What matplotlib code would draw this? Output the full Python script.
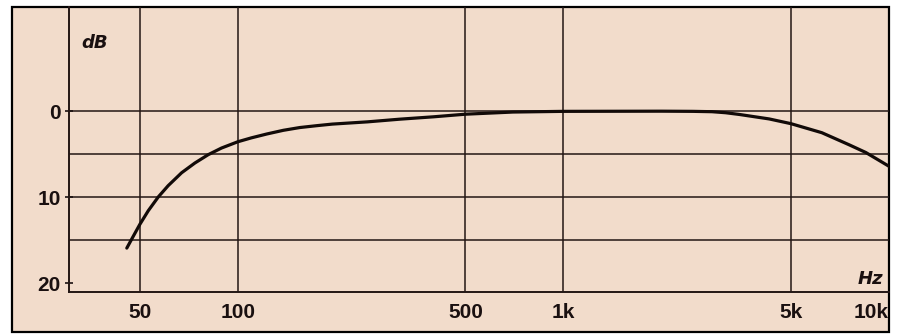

# Frequency response chart: attenuation in dB against frequency on a log axis.
# Values.

import numpy as np
import matplotlib as mpl
import matplotlib.pyplot as plt
from matplotlib.patches import Rectangle

# Curve points (frequency in Hz, attenuation in dB, 0 at the top)
freq = [45.6, 47.7, 50, 53.1, 57, 61.1, 67.2, 73.8, 81.1, 89.1, 100, 110,
	122.7, 138, 155, 175, 195, 250, 314, 400, 500, 700, 1000, 2000, 2500, 2860, 3150,
	3470, 4285, 5000, 6220, 7540, 8490, 10000]
db = [15.9, 14.55, 13.15, 11.55, 9.95, 8.65, 7.15, 6.02, 5.05, 4.28, 3.55, 3.1,
	2.65, 2.22, 1.9, 1.68, 1.5, 1.24, 0.93, 0.65, 0.35, 0.1, 0.02, 0.0, 0.02, 0.06, 0.18,
	0.38, 0.9, 1.45, 2.5, 3.9, 4.8, 6.4]

# Axis ticks and labels
x_ticks = [50, 100, 500, 1000, 5000, 10000]
x_labels = ["50", "100", "500", "1k", "5k", "10k"]
y_ticks = [0, 10, 20]
y_labels = ["0", "10", "20"]
y_grid = [0, 5, 10, 15]

def main():
	mpl.use("Agg")

	paper = "#f2dccb"
	ink = "#231614"

	fig = plt.figure(figsize=(8.99, 3.34), dpi=100)
	fig.patch.set_facecolor("white")

	# Outer frame of the printed chart, filled with the paper colour
	W, H = 899.0, 334.0
	frame = Rectangle((12 / W, 2 / H), (889 - 12) / W, (332 - 7) / H,
		transform=fig.transFigure, facecolor=paper, edgecolor="black",
		linewidth=1.6, zorder=-1)
	fig.patches.append(frame)

	ax = fig.add_axes([69 / W, 1 - 292 / H, (889 - 69) / W, (292 - 7) / H])
	ax.set_facecolor("none")

	ax.set_xscale("log")
	ax.set_xlim(30.3, 10000)
	ax.set_ylim(21, -12.1)

	# Grid lines
	for f in x_ticks[:-1]:
		ax.axvline(f, color=ink, linewidth=1.1, zorder=1)
	for v in y_grid:
		ax.axhline(v, color=ink, linewidth=1.1, zorder=1)

	# Response curve
	ax.plot(freq, db, color="#120a08", linewidth=2.3, solid_capstyle="round",
		solid_joinstyle="round", zorder=3)

	# Axes lines
	for s in ["top", "right"]:
		ax.spines[s].set_visible(False)
	for s in ["left", "bottom"]:
		ax.spines[s].set_color(ink)
		ax.spines[s].set_linewidth(1.4)

	font = dict(family=["Liberation Sans", "DejaVu Sans"], weight="bold", size=15)

	ax.set_xticks(x_ticks)
	ax.set_xticklabels(x_labels, **font)
	ax.xaxis.set_minor_locator(mpl.ticker.NullLocator())
	ax.tick_params(axis="x", length=0, pad=8, colors="#1a1010")
	ax.get_xticklabels()[-1].set_horizontalalignment("right")

	ax.set_yticks(y_ticks)
	ax.set_yticklabels(y_labels, **font)
	ax.tick_params(axis="y", direction="inout", length=6, width=1.2, pad=3,
		colors="#1a1010")

	# Unit labels
	ax.text(36.4, -7.9, "dB", fontsize=13, style="italic", weight="bold",
		family="DejaVu Sans", color="#1a1010", ha="center", va="center")
	ax.text(8800, 19.5, "Hz", fontsize=13, style="italic", weight="bold",
		family="DejaVu Sans", color="#1a1010", ha="center", va="center")

	fig.savefig("out.png", dpi=100, facecolor="white")

if __name__ == "__main__":
	main()
